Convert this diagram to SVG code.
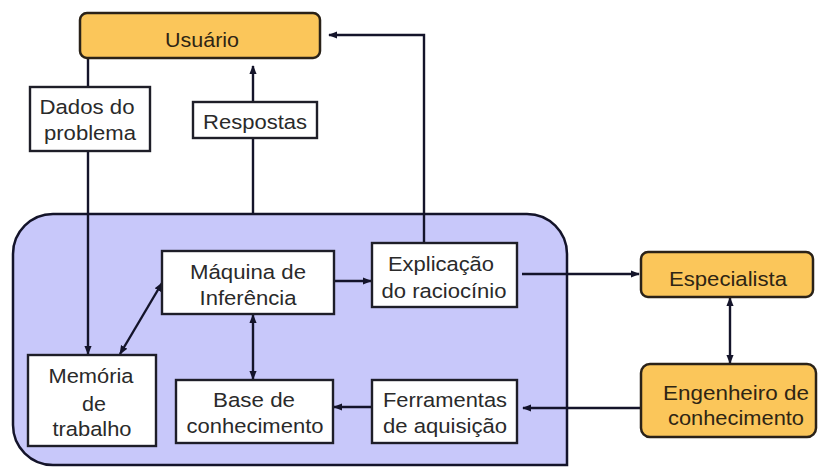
<svg xmlns="http://www.w3.org/2000/svg" width="818" height="467" viewBox="0 0 818 467">
<style>
.box{fill:#ffffff;stroke:#1e1e28;stroke-width:2.4}
.actor{fill:#fbc65a;stroke:#2a2218;stroke-width:2.5}
.cont{fill:#c8c8fa;stroke:#14142a;stroke-width:2.5}
.t{font-family:"Liberation Sans",Arial,sans-serif;font-size:20.5px;fill:#2a2a2a;text-anchor:middle}
.ta{font-family:"Liberation Sans",Arial,sans-serif;font-size:20.5px;fill:#2e2514;text-anchor:middle}
.ln{fill:none;stroke:#14142a;stroke-width:2.4}
</style>
<defs>
<marker id="ah" viewBox="0 0 10 10" refX="9" refY="5" markerWidth="3.8" markerHeight="3.8" orient="auto-start-reverse" markerUnits="strokeWidth">
<path d="M0,1 L10,5 L0,9 Z" fill="#14142a"/>
</marker>
</defs>
<g id="sistema">
<path class="cont" d="M53,214 H527 A40,40 0 0 1 567,254 V465 H53 A40,40 0 0 1 13,425 V254 A40,40 0 0 1 53,214 Z"/>
</g>
<g id="connectors">
<line class="ln" x1="88" y1="58" x2="88" y2="87"/>
<line class="ln" x1="88" y1="151" x2="88" y2="354" marker-end="url(#ah)"/>
<line class="ln" x1="253" y1="213" x2="253" y2="138"/>
<line class="ln" x1="253" y1="102" x2="253" y2="66" marker-end="url(#ah)"/>
<polyline class="ln" points="424,243 424,35 329,35" marker-end="url(#ah)"/>
<line class="ln" x1="120" y1="354" x2="162" y2="283" marker-start="url(#ah)" marker-end="url(#ah)"/>
<line class="ln" x1="334" y1="281" x2="371" y2="281" marker-end="url(#ah)"/>
<line class="ln" x1="253" y1="315" x2="253" y2="379" marker-start="url(#ah)" marker-end="url(#ah)"/>
<line class="ln" x1="372" y1="407" x2="334" y2="407" marker-end="url(#ah)"/>
<line class="ln" x1="522" y1="274" x2="639" y2="274" marker-end="url(#ah)"/>
<line class="ln" x1="730" y1="298" x2="730" y2="363" marker-start="url(#ah)" marker-end="url(#ah)"/>
<line class="ln" x1="641" y1="408" x2="523" y2="408" marker-end="url(#ah)"/>
</g>
<g id="usuario">
<rect class="actor" x="80" y="13" width="240" height="45" rx="7"/>
<text class="ta" x="202" y="47" textLength="74" lengthAdjust="spacingAndGlyphs">Usuário</text>
</g>
<g id="dados">
<rect class="box" x="30" y="87" width="120" height="64"/>
<text class="t" x="87" y="114" textLength="95" lengthAdjust="spacingAndGlyphs">Dados do</text>
<text class="t" x="90" y="140" textLength="92" lengthAdjust="spacingAndGlyphs">problema</text>
</g>
<g id="respostas">
<rect class="box" x="193" y="102" width="124" height="36"/>
<text class="t" x="255" y="129" textLength="104" lengthAdjust="spacingAndGlyphs">Respostas</text>
</g>
<g id="maquina">
<rect class="box" x="162" y="251" width="172" height="63"/>
<text class="t" x="248" y="279" textLength="116" lengthAdjust="spacingAndGlyphs">Máquina de</text>
<text class="t" x="248" y="305" textLength="97" lengthAdjust="spacingAndGlyphs">Inferência</text>
</g>
<g id="explicacao">
<rect class="box" x="372" y="243" width="145" height="64"/>
<text class="t" x="441" y="271" textLength="106" lengthAdjust="spacingAndGlyphs">Explicação</text>
<text class="t" x="444" y="298" textLength="125" lengthAdjust="spacingAndGlyphs">do raciocínio</text>
</g>
<g id="memoria">
<rect class="box" x="28" y="355" width="128" height="91"/>
<text class="t" x="91" y="383" textLength="85" lengthAdjust="spacingAndGlyphs">Memória</text>
<text class="t" x="94" y="411" textLength="24" lengthAdjust="spacingAndGlyphs">de</text>
<text class="t" x="92" y="436" textLength="79" lengthAdjust="spacingAndGlyphs">trabalho</text>
</g>
<g id="base">
<rect class="box" x="176" y="380" width="157" height="63"/>
<text class="t" x="254" y="407" textLength="82" lengthAdjust="spacingAndGlyphs">Base de</text>
<text class="t" x="255" y="433" textLength="137" lengthAdjust="spacingAndGlyphs">conhecimento</text>
</g>
<g id="ferramentas">
<rect class="box" x="372" y="380" width="145" height="63"/>
<text class="t" x="445" y="407" textLength="124" lengthAdjust="spacingAndGlyphs">Ferramentas</text>
<text class="t" x="445" y="433" textLength="124" lengthAdjust="spacingAndGlyphs">de aquisição</text>
</g>
<g id="especialista">
<rect class="actor" x="641" y="252" width="172" height="45" rx="7"/>
<text class="ta" x="728" y="286" textLength="118" lengthAdjust="spacingAndGlyphs">Especialista</text>
</g>
<g id="engenheiro">
<rect class="actor" x="641" y="364" width="175" height="73" rx="9"/>
<text class="ta" x="736" y="400" textLength="146" lengthAdjust="spacingAndGlyphs">Engenheiro de</text>
<text class="ta" x="736" y="425" textLength="136" lengthAdjust="spacingAndGlyphs">conhecimento</text>
</g>
</svg>
